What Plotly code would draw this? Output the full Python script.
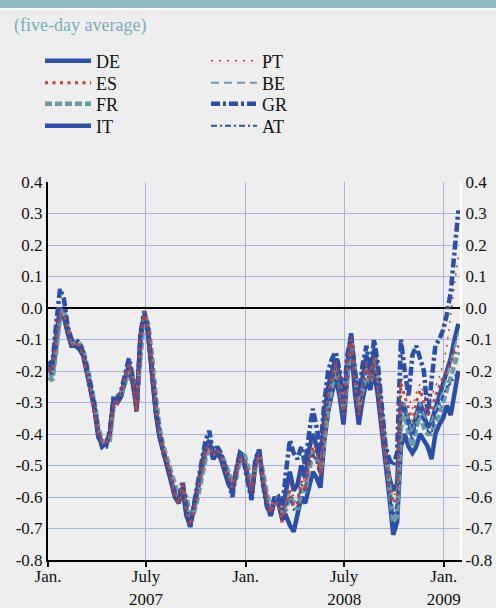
import pandas as pd
import plotly.graph_objects as go

# weekly observation dates (five-day averages)
dates = pd.date_range("2007-01-02", "2009-01-28", periods=108)

DE = [-0.19,-0.21,-0.12,-0.01,-0.03,-0.08,-0.12,-0.12,-0.13,-0.15,-0.20,-0.26,
      -0.32,-0.41,-0.43,-0.43,-0.40,-0.29,-0.30,-0.28,-0.23,-0.19,-0.24,-0.32,
      -0.10,-0.02,-0.08,-0.20,-0.33,-0.41,-0.46,-0.50,-0.55,-0.60,-0.61,-0.57,
      -0.65,-0.68,-0.63,-0.57,-0.52,-0.46,-0.43,-0.48,-0.45,-0.47,-0.50,-0.54,
      -0.57,-0.52,-0.47,-0.48,-0.53,-0.59,-0.50,-0.46,-0.55,-0.62,-0.65,-0.60,
      -0.62,-0.67,-0.66,-0.69,-0.71,-0.66,-0.60,-0.62,-0.57,-0.52,-0.54,-0.57,
      -0.42,-0.33,-0.27,-0.22,-0.28,-0.37,-0.22,-0.12,-0.27,-0.37,-0.29,-0.23,
      -0.26,-0.20,-0.28,-0.38,-0.49,-0.60,-0.72,-0.68,-0.44,-0.40,-0.44,-0.46,
      -0.44,-0.40,-0.42,-0.44,-0.48,-0.40,-0.37,-0.35,-0.31,-0.34,-0.27,-0.20]

ES = [-0.20,-0.20,-0.10,-0.02,-0.02,-0.07,-0.12,-0.11,-0.12,-0.15,-0.21,-0.27,
      -0.33,-0.40,-0.42,-0.43,-0.41,-0.30,-0.30,-0.27,-0.22,-0.18,-0.23,-0.33,
      -0.10,-0.01,-0.06,-0.19,-0.32,-0.40,-0.46,-0.49,-0.54,-0.60,-0.62,-0.56,
      -0.65,-0.69,-0.64,-0.58,-0.52,-0.45,-0.44,-0.47,-0.45,-0.47,-0.51,-0.54,
      -0.57,-0.52,-0.48,-0.48,-0.52,-0.58,-0.50,-0.47,-0.54,-0.61,-0.65,-0.62,
      -0.62,-0.68,-0.62,-0.58,-0.63,-0.62,-0.55,-0.58,-0.48,-0.44,-0.47,-0.53,
      -0.38,-0.28,-0.22,-0.18,-0.24,-0.34,-0.18,-0.10,-0.24,-0.34,-0.24,-0.18,
      -0.23,-0.16,-0.25,-0.36,-0.48,-0.56,-0.62,-0.60,-0.24,-0.28,-0.32,-0.36,
      -0.30,-0.26,-0.30,-0.34,-0.32,-0.28,-0.25,-0.22,-0.20,-0.18,-0.14,-0.12]

FR = [-0.22,-0.23,-0.14,-0.03,0.00,-0.06,-0.10,-0.11,-0.11,-0.13,-0.18,-0.24,
      -0.30,-0.38,-0.42,-0.43,-0.42,-0.31,-0.28,-0.27,-0.24,-0.20,-0.22,-0.30,
      -0.14,-0.02,-0.05,-0.15,-0.28,-0.38,-0.44,-0.48,-0.52,-0.57,-0.60,-0.58,
      -0.60,-0.66,-0.65,-0.60,-0.54,-0.48,-0.44,-0.45,-0.44,-0.46,-0.49,-0.52,
      -0.55,-0.54,-0.48,-0.46,-0.50,-0.56,-0.52,-0.47,-0.52,-0.59,-0.63,-0.62,
      -0.60,-0.65,-0.64,-0.60,-0.62,-0.64,-0.58,-0.58,-0.52,-0.46,-0.48,-0.52,
      -0.42,-0.32,-0.25,-0.20,-0.24,-0.32,-0.22,-0.10,-0.20,-0.32,-0.26,-0.20,
      -0.24,-0.16,-0.22,-0.34,-0.46,-0.58,-0.68,-0.66,-0.38,-0.34,-0.40,-0.44,
      -0.38,-0.34,-0.38,-0.40,-0.40,-0.36,-0.34,-0.30,-0.26,-0.22,-0.18,-0.14]

IT = [-0.18,-0.19,-0.09,0.00,-0.02,-0.08,-0.12,-0.12,-0.12,-0.14,-0.20,-0.26,
      -0.32,-0.40,-0.44,-0.43,-0.40,-0.29,-0.29,-0.27,-0.22,-0.18,-0.23,-0.31,
      -0.09,-0.02,-0.08,-0.20,-0.33,-0.41,-0.46,-0.50,-0.54,-0.60,-0.62,-0.57,
      -0.66,-0.69,-0.63,-0.57,-0.50,-0.44,-0.42,-0.48,-0.46,-0.48,-0.52,-0.56,
      -0.58,-0.52,-0.46,-0.47,-0.54,-0.60,-0.49,-0.45,-0.55,-0.62,-0.66,-0.61,
      -0.61,-0.66,-0.58,-0.52,-0.58,-0.56,-0.50,-0.54,-0.45,-0.40,-0.44,-0.50,
      -0.34,-0.25,-0.20,-0.16,-0.22,-0.32,-0.18,-0.08,-0.22,-0.32,-0.22,-0.15,
      -0.22,-0.13,-0.22,-0.34,-0.46,-0.54,-0.58,-0.56,-0.30,-0.32,-0.36,-0.40,
      -0.34,-0.30,-0.34,-0.38,-0.36,-0.32,-0.28,-0.24,-0.20,-0.16,-0.10,-0.05]

PT = [-0.19,-0.20,-0.11,-0.01,-0.02,-0.07,-0.11,-0.11,-0.12,-0.15,-0.20,-0.26,
      -0.32,-0.40,-0.43,-0.43,-0.40,-0.30,-0.29,-0.27,-0.22,-0.18,-0.23,-0.32,
      -0.10,-0.02,-0.07,-0.19,-0.32,-0.40,-0.45,-0.49,-0.54,-0.59,-0.61,-0.56,
      -0.64,-0.68,-0.63,-0.57,-0.51,-0.45,-0.43,-0.47,-0.45,-0.47,-0.50,-0.54,
      -0.57,-0.52,-0.47,-0.48,-0.53,-0.59,-0.50,-0.46,-0.55,-0.62,-0.65,-0.61,
      -0.62,-0.66,-0.60,-0.55,-0.60,-0.60,-0.52,-0.56,-0.47,-0.42,-0.46,-0.52,
      -0.36,-0.26,-0.20,-0.16,-0.22,-0.32,-0.17,-0.09,-0.22,-0.32,-0.22,-0.16,
      -0.22,-0.15,-0.24,-0.35,-0.47,-0.55,-0.60,-0.57,-0.22,-0.24,-0.28,-0.32,
      -0.27,-0.24,-0.27,-0.31,-0.28,-0.25,-0.22,-0.18,-0.12,-0.02,0.08,0.17]

BE = [-0.21,-0.22,-0.13,-0.02,-0.01,-0.07,-0.11,-0.11,-0.12,-0.14,-0.19,-0.25,
      -0.31,-0.39,-0.42,-0.43,-0.41,-0.30,-0.29,-0.27,-0.23,-0.19,-0.23,-0.31,
      -0.12,-0.02,-0.06,-0.17,-0.30,-0.39,-0.45,-0.49,-0.53,-0.58,-0.61,-0.57,
      -0.62,-0.67,-0.64,-0.59,-0.53,-0.47,-0.44,-0.46,-0.44,-0.46,-0.50,-0.53,
      -0.56,-0.53,-0.48,-0.47,-0.51,-0.57,-0.51,-0.46,-0.53,-0.60,-0.64,-0.62,
      -0.61,-0.66,-0.62,-0.58,-0.61,-0.62,-0.56,-0.57,-0.50,-0.45,-0.47,-0.52,
      -0.40,-0.30,-0.24,-0.19,-0.24,-0.33,-0.20,-0.10,-0.22,-0.33,-0.25,-0.19,
      -0.24,-0.16,-0.23,-0.35,-0.47,-0.57,-0.65,-0.63,-0.32,-0.30,-0.36,-0.40,
      -0.34,-0.30,-0.34,-0.36,-0.36,-0.32,-0.30,-0.26,-0.22,-0.17,-0.12,-0.08]

GR = [-0.17,-0.18,-0.05,0.06,0.03,-0.06,-0.10,-0.10,-0.11,-0.14,-0.19,-0.25,
      -0.31,-0.40,-0.44,-0.44,-0.39,-0.28,-0.29,-0.26,-0.21,-0.16,-0.22,-0.33,
      -0.08,-0.01,-0.07,-0.19,-0.32,-0.40,-0.46,-0.50,-0.55,-0.59,-0.61,-0.55,
      -0.64,-0.70,-0.62,-0.55,-0.50,-0.42,-0.39,-0.47,-0.44,-0.46,-0.50,-0.55,
      -0.60,-0.51,-0.46,-0.49,-0.55,-0.61,-0.48,-0.45,-0.56,-0.63,-0.66,-0.61,
      -0.60,-0.64,-0.52,-0.42,-0.46,-0.48,-0.44,-0.50,-0.40,-0.32,-0.38,-0.45,
      -0.30,-0.20,-0.16,-0.14,-0.20,-0.30,-0.15,-0.09,-0.20,-0.28,-0.18,-0.12,
      -0.20,-0.10,-0.18,-0.30,-0.44,-0.48,-0.50,-0.46,-0.10,-0.20,-0.28,-0.15,
      -0.12,-0.16,-0.20,-0.34,-0.22,-0.12,-0.10,-0.07,-0.02,0.05,0.18,0.31]

AT = [-0.20,-0.21,-0.11,-0.02,-0.03,-0.08,-0.12,-0.12,-0.13,-0.15,-0.20,-0.26,
      -0.32,-0.41,-0.43,-0.43,-0.40,-0.29,-0.30,-0.28,-0.23,-0.19,-0.24,-0.32,
      -0.10,-0.02,-0.08,-0.20,-0.33,-0.41,-0.46,-0.50,-0.55,-0.60,-0.61,-0.57,
      -0.65,-0.68,-0.63,-0.57,-0.52,-0.46,-0.43,-0.48,-0.45,-0.47,-0.50,-0.54,
      -0.57,-0.52,-0.47,-0.48,-0.53,-0.59,-0.50,-0.46,-0.55,-0.62,-0.65,-0.60,
      -0.62,-0.67,-0.63,-0.60,-0.64,-0.63,-0.56,-0.58,-0.50,-0.46,-0.49,-0.54,
      -0.38,-0.29,-0.23,-0.19,-0.25,-0.34,-0.19,-0.11,-0.25,-0.35,-0.26,-0.20,
      -0.24,-0.18,-0.26,-0.36,-0.48,-0.58,-0.66,-0.62,-0.34,-0.32,-0.38,-0.42,
      -0.36,-0.33,-0.36,-0.39,-0.40,-0.34,-0.31,-0.28,-0.25,-0.24,-0.22,-0.20]

x_tick_vals = ["2007-01-01", "2007-07-01", "2008-01-01", "2008-07-01", "2009-01-01"]
x_tick_text = ["Jan.", "July<br>2007", "Jan.", "July<br>2008", "Jan.<br>2009"]
y_tick_vals = [0.4, 0.3, 0.2, 0.1, 0.0, -0.1, -0.2, -0.3, -0.4, -0.5, -0.6, -0.7, -0.8]
y_tick_text = ["0.4", "0.3", "0.2", "0.1", "0.0", "-0.1", "-0.2", "-0.3",
               "-0.4", "-0.5", "-0.6", "-0.7", "-0.8"]

BLUE = "#2b4ea8"
RED = "#c0443a"
TEAL = "#6b9ca6"
GRID = "#abb2e6"
BG = "#eeeeee"
FONT = "Liberation Serif"

# plot area in pixels (for placing legend / annotation in paper coords)
PL, PR, PT_, PB = 48, 460, 182, 560
PW, PH = PR - PL, PB - PT_

def px_x(p):
    return (p - PL) / PW

def px_y(p):
    return (PB - p) / PH

styles = {
    "DE": dict(data=DE, color=BLUE, width=4.5, dash="solid"),
    "ES": dict(data=ES, color=RED, width=3, dash="3px,4.5px"),
    "FR": dict(data=FR, color=TEAL, width=4.5, dash="7px,3px"),
    "IT": dict(data=IT, color=BLUE, width=4.5, dash="solid"),
    "PT": dict(data=PT, color=RED, width=1.5, dash="2px,6px"),
    "BE": dict(data=BE, color=TEAL, width=2, dash="8px,5px"),
    "GR": dict(data=GR, color=BLUE, width=4.5, dash="9px,3px,3px,3px"),
    "AT": dict(data=AT, color=BLUE, width=2, dash="6px,3px,2px,3px"),
}
legend_order = ["DE", "ES", "FR", "IT", "PT", "BE", "GR", "AT"]
draw_order = ["DE", "IT", "FR", "BE", "GR", "AT", "ES", "PT"]

# legend placement: one legend box per entry (two columns of four rows)
row_centers = [61, 83, 104, 126]
col_left = [40, 206]
legend_layouts = {}
legend_ids = {}
for i, name in enumerate(legend_order):
    lid = "legend" if i == 0 else f"legend{i + 1}"
    legend_ids[name] = lid
    legend_layouts[lid] = dict(
        x=px_x(col_left[i // 4]), y=px_y(row_centers[i % 4]),
        xanchor="left", yanchor="middle", itemwidth=46,
        bgcolor="rgba(0,0,0,0)", font=dict(size=18, color="#111111", family=FONT),
    )

fig = go.Figure()
for name in draw_order:
    s = styles[name]
    fig.add_trace(go.Scatter(
        x=dates, y=s["data"], name=name, mode="lines",
        line=dict(color=s["color"], width=s["width"], dash=s["dash"]),
        legend=legend_ids[name],
    ))

# carrier for the right-hand axis
fig.add_trace(go.Scatter(x=[dates[0]], y=[None], yaxis="y2", showlegend=False,
                         hoverinfo="skip"))

fig.update_layout(
    width=496, height=608,
    margin=dict(l=PL, r=496 - PR, t=PT_, b=608 - PB, autoexpand=False),
    paper_bgcolor=BG, plot_bgcolor=BG,
    font=dict(family=FONT, size=17, color="#111111"),
    xaxis=dict(
        type="date", range=["2007-01-01", "2009-01-31"],
        tickvals=x_tick_vals, ticktext=x_tick_text, automargin=False,
        showgrid=True, gridcolor=GRID, gridwidth=1,
        showline=True, linecolor="black", linewidth=2,
        ticks="outside", ticklen=5, tickwidth=2, tickcolor="black",
        ticklabelstandoff=-5,
        tickfont=dict(size=17), zeroline=False,
    ),
    yaxis=dict(
        range=[-0.8, 0.4], tickvals=y_tick_vals, ticktext=y_tick_text,
        showgrid=True, gridcolor=GRID, gridwidth=1, automargin=False,
        showline=True, linecolor="black", linewidth=2,
        zeroline=True, zerolinecolor="black", zerolinewidth=2,
        ticks="", tickfont=dict(size=17),
    ),
    yaxis2=dict(
        range=[-0.8, 0.4], tickvals=y_tick_vals, ticktext=y_tick_text,
        overlaying="y", side="right", showgrid=False, zeroline=False,
        showline=True, linecolor="white", linewidth=2, automargin=False,
        ticks="", tickfont=dict(size=17),
    ),
    showlegend=True,
    shapes=[
        dict(type="rect", xref="paper", yref="paper", x0=-0.2, x1=1.2,
             y0=px_y(8), y1=px_y(-10),
             fillcolor="#8fbcc4", line=dict(width=0), layer="below"),
        dict(type="rect", xref="paper", yref="paper", x0=-0.2, x1=1.2,
             y0=px_y(10), y1=px_y(8),
             fillcolor="white", line=dict(width=0), layer="below"),
    ],
    annotations=[
        dict(text="(five-day average)", xref="paper", yref="paper",
             x=px_x(12), y=px_y(25), xanchor="left", yanchor="middle",
             showarrow=False, font=dict(size=18, color="#7aafb6", family=FONT)),
    ],
)
fig.update_layout(**legend_layouts)

fig.write_html("out.html",
               config={"displayModeBar": False},
               post_script="document.body.style.margin='0';"
                           "document.body.style.background='#eeeeee';")
